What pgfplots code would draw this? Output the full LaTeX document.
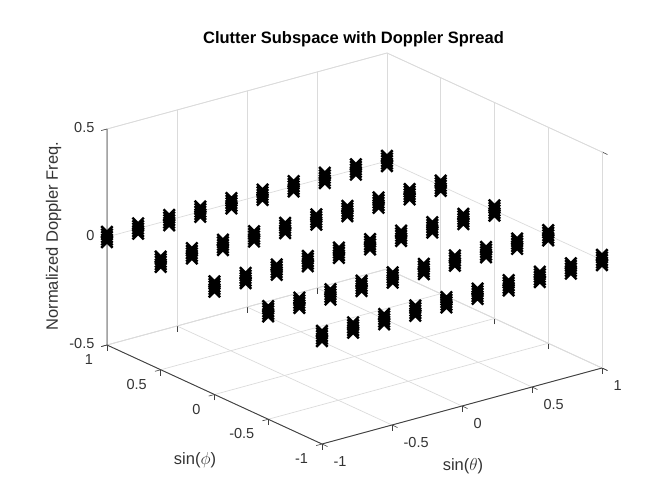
\documentclass[border=0pt]{standalone}
\usepackage{fontspec}
\setmainfont{Liberation Sans}
\usepackage{pgfplots}
\pgfplotsset{compat=1.18}
\definecolor{axdark}{gray}{0.25}
\definecolor{axtext}{gray}{0.2}
\definecolor{gridc}{gray}{0.86}
\begin{document}
\begin{tikzpicture}
\useasboundingbox (-354.5pt,-245.5pt) rectangle (312.5pt,248.5pt);
\begin{axis}[
  at={(0,0)}, anchor=origin, disabledatascaling, clip=false,
  x={(140pt,38pt)}, y={(-107.5pt,49.5pt)}, z={(0pt,216pt)},
  xmin=-1,xmax=1,ymin=-1,ymax=1,zmin=-0.5,zmax=0.5,
  xtick={-1,-0.5,0,0.5,1}, ytick={-1,-0.5,0,0.5,1}, ztick={-0.5,0,0.5},
  xticklabels={-1,-0.5,0,0.5,1}, yticklabels={-1,-0.5,0,0.5,1}, zticklabels={-0.5,0,0.5},
  grid=major, major grid style={gridc,line width=0.7pt},
  axis line style={gridc,line width=0.7pt},
  tick style={axdark,line width=0.6pt}, major tick length=6pt, tick align=outside, tick pos=left,
  tick label style={font=\fontsize{14.5}{16}\selectfont,text=axtext,inner sep=0pt},
  xticklabel style={anchor=west,xshift=6pt,yshift=-15pt},
  yticklabel style={anchor=east,xshift=-8pt,yshift=-13pt},
  zticklabel style={anchor=east,xshift=-7pt,yshift=-1pt},
  title={\textbf{Clutter Subspace with Doppler Spread}},
  title style={font=\fontsize{16.5}{18}\selectfont,at={(axis cs:0,0,0)},anchor=base,xshift=-1pt,yshift=198.8pt,inner sep=0pt},
  xlabel={sin($\theta$)}, ylabel={sin($\phi$)}, zlabel={Normalized Doppler Freq.},
  label style={font=\fontsize{16.5}{18}\selectfont,text=axtext,inner sep=0pt},
  xlabel style={at={(axis cs:0,0,0)},anchor=base,xshift=108.5pt,yshift=-221.5pt,rotate=0,sloped=false},
  ylabel style={at={(axis cs:0,0,0)},anchor=base,xshift=-159.5pt,yshift=-215.5pt,rotate=0,sloped=false},
  zlabel style={at={(axis cs:0,0,0)},anchor=base,xshift=12.5pt,yshift=296.5pt,sloped=false},
]
\addplot3[no marks,axdark,line width=0.9pt] coordinates {(-1,1,0.5) (-1,1,-0.5) (-1,-1,-0.5) (1,-1,-0.5)};
\addplot3[only marks,mark=x,mark size=8pt,black,mark options={line width=2.4pt,solid}] coordinates {
(-1,1,-.024)(-1,1,-.012)(-1,1,0)(-1,1,.012)(-1,1,.024)
(-.7778,1,-.024)(-.7778,1,-.012)(-.7778,1,0)(-.7778,1,.012)(-.7778,1,.024)
(-.5556,1,-.024)(-.5556,1,-.012)(-.5556,1,0)(-.5556,1,.012)(-.5556,1,.024)
(-.3333,1,-.024)(-.3333,1,-.012)(-.3333,1,0)(-.3333,1,.012)(-.3333,1,.024)
(-.1111,1,-.024)(-.1111,1,-.012)(-.1111,1,0)(-.1111,1,.012)(-.1111,1,.024)
(.1111,1,-.024)(.1111,1,-.012)(.1111,1,0)(.1111,1,.012)(.1111,1,.024)
(.3333,1,-.024)(.3333,1,-.012)(.3333,1,0)(.3333,1,.012)(.3333,1,.024)
(.5556,1,-.024)(.5556,1,-.012)(.5556,1,0)(.5556,1,.012)(.5556,1,.024)
(.7778,1,-.024)(.7778,1,-.012)(.7778,1,0)(.7778,1,.012)(.7778,1,.024)
(1,1,-.024)(1,1,-.012)(1,1,0)(1,1,.012)(1,1,.024)
(-1,.5,-.024)(-1,.5,-.012)(-1,.5,0)(-1,.5,.012)(-1,.5,.024)
(-.7778,.5,-.024)(-.7778,.5,-.012)(-.7778,.5,0)(-.7778,.5,.012)(-.7778,.5,.024)
(-.5556,.5,-.024)(-.5556,.5,-.012)(-.5556,.5,0)(-.5556,.5,.012)(-.5556,.5,.024)
(-.3333,.5,-.024)(-.3333,.5,-.012)(-.3333,.5,0)(-.3333,.5,.012)(-.3333,.5,.024)
(-.1111,.5,-.024)(-.1111,.5,-.012)(-.1111,.5,0)(-.1111,.5,.012)(-.1111,.5,.024)
(.1111,.5,-.024)(.1111,.5,-.012)(.1111,.5,0)(.1111,.5,.012)(.1111,.5,.024)
(.3333,.5,-.024)(.3333,.5,-.012)(.3333,.5,0)(.3333,.5,.012)(.3333,.5,.024)
(.5556,.5,-.024)(.5556,.5,-.012)(.5556,.5,0)(.5556,.5,.012)(.5556,.5,.024)
(.7778,.5,-.024)(.7778,.5,-.012)(.7778,.5,0)(.7778,.5,.012)(.7778,.5,.024)
(1,.5,-.024)(1,.5,-.012)(1,.5,0)(1,.5,.012)(1,.5,.024)
(-1,0,-.024)(-1,0,-.012)(-1,0,0)(-1,0,.012)(-1,0,.024)
(-.7778,0,-.024)(-.7778,0,-.012)(-.7778,0,0)(-.7778,0,.012)(-.7778,0,.024)
(-.5556,0,-.024)(-.5556,0,-.012)(-.5556,0,0)(-.5556,0,.012)(-.5556,0,.024)
(-.3333,0,-.024)(-.3333,0,-.012)(-.3333,0,0)(-.3333,0,.012)(-.3333,0,.024)
(-.1111,0,-.024)(-.1111,0,-.012)(-.1111,0,0)(-.1111,0,.012)(-.1111,0,.024)
(.1111,0,-.024)(.1111,0,-.012)(.1111,0,0)(.1111,0,.012)(.1111,0,.024)
(.3333,0,-.024)(.3333,0,-.012)(.3333,0,0)(.3333,0,.012)(.3333,0,.024)
(.5556,0,-.024)(.5556,0,-.012)(.5556,0,0)(.5556,0,.012)(.5556,0,.024)
(.7778,0,-.024)(.7778,0,-.012)(.7778,0,0)(.7778,0,.012)(.7778,0,.024)
(1,0,-.024)(1,0,-.012)(1,0,0)(1,0,.012)(1,0,.024)
(-1,-.5,-.024)(-1,-.5,-.012)(-1,-.5,0)(-1,-.5,.012)(-1,-.5,.024)
(-.7778,-.5,-.024)(-.7778,-.5,-.012)(-.7778,-.5,0)(-.7778,-.5,.012)(-.7778,-.5,.024)
(-.5556,-.5,-.024)(-.5556,-.5,-.012)(-.5556,-.5,0)(-.5556,-.5,.012)(-.5556,-.5,.024)
(-.3333,-.5,-.024)(-.3333,-.5,-.012)(-.3333,-.5,0)(-.3333,-.5,.012)(-.3333,-.5,.024)
(-.1111,-.5,-.024)(-.1111,-.5,-.012)(-.1111,-.5,0)(-.1111,-.5,.012)(-.1111,-.5,.024)
(.1111,-.5,-.024)(.1111,-.5,-.012)(.1111,-.5,0)(.1111,-.5,.012)(.1111,-.5,.024)
(.3333,-.5,-.024)(.3333,-.5,-.012)(.3333,-.5,0)(.3333,-.5,.012)(.3333,-.5,.024)
(.5556,-.5,-.024)(.5556,-.5,-.012)(.5556,-.5,0)(.5556,-.5,.012)(.5556,-.5,.024)
(.7778,-.5,-.024)(.7778,-.5,-.012)(.7778,-.5,0)(.7778,-.5,.012)(.7778,-.5,.024)
(1,-.5,-.024)(1,-.5,-.012)(1,-.5,0)(1,-.5,.012)(1,-.5,.024)
(-1,-1,-.024)(-1,-1,-.012)(-1,-1,0)(-1,-1,.012)(-1,-1,.024)
(-.7778,-1,-.024)(-.7778,-1,-.012)(-.7778,-1,0)(-.7778,-1,.012)(-.7778,-1,.024)
(-.5556,-1,-.024)(-.5556,-1,-.012)(-.5556,-1,0)(-.5556,-1,.012)(-.5556,-1,.024)
(-.3333,-1,-.024)(-.3333,-1,-.012)(-.3333,-1,0)(-.3333,-1,.012)(-.3333,-1,.024)
(-.1111,-1,-.024)(-.1111,-1,-.012)(-.1111,-1,0)(-.1111,-1,.012)(-.1111,-1,.024)
(.1111,-1,-.024)(.1111,-1,-.012)(.1111,-1,0)(.1111,-1,.012)(.1111,-1,.024)
(.3333,-1,-.024)(.3333,-1,-.012)(.3333,-1,0)(.3333,-1,.012)(.3333,-1,.024)
(.5556,-1,-.024)(.5556,-1,-.012)(.5556,-1,0)(.5556,-1,.012)(.5556,-1,.024)
(.7778,-1,-.024)(.7778,-1,-.012)(.7778,-1,0)(.7778,-1,.012)(.7778,-1,.024)
(1,-1,-.024)(1,-1,-.012)(1,-1,0)(1,-1,.012)(1,-1,.024)
};
\end{axis}
\end{tikzpicture}
\end{document}
